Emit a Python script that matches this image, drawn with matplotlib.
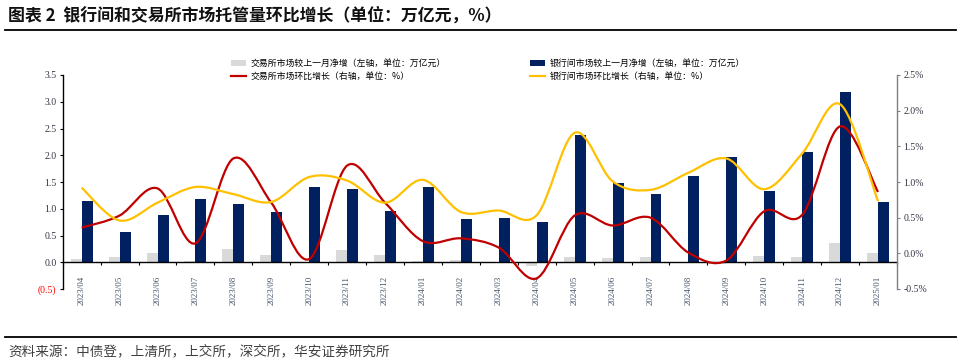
import numpy as np
import matplotlib.pyplot as plt
from matplotlib.path import Path
from matplotlib.patches import PathPatch, Patch
from matplotlib.lines import Line2D

plt.rcParams['font.family'] = ['Noto Sans CJK SC', 'DejaVu Sans']

months = ['2023/04', '2023/05', '2023/06', '2023/07', '2023/08', '2023/09', '2023/10',
          '2023/11', '2023/12', '2024/01', '2024/02', '2024/03', '2024/04', '2024/05',
          '2024/06', '2024/07', '2024/08', '2024/09', '2024/10', '2024/11', '2024/12',
          '2025/01']
# 较上一月净增（万亿元）
exch_net = [0.06, 0.10, 0.175, 0.025, 0.25, 0.14, 0.01, 0.23, 0.14, 0.025, 0.045,
            0.01, -0.07, 0.10, 0.08, 0.10, 0.01, -0.025, 0.12, 0.10, 0.36, 0.175]
bank_net = [1.15, 0.57, 0.89, 1.19, 1.09, 0.94, 1.41, 1.375, 0.95, 1.41, 0.80,
            0.825, 0.76, 2.38, 1.48, 1.28, 1.62, 1.96, 1.34, 2.07, 3.18, 1.13]
# 环比增长（%）
exch_mom = [0.36, 0.53, 0.91, 0.14, 1.33, 0.71, -0.08, 1.23, 0.71, 0.17, 0.21,
            0.08, -0.35, 0.53, 0.39, 0.50, 0.01, -0.10, 0.59, 0.54, 1.78, 0.86]
bank_mom = [0.92, 0.46, 0.71, 0.93, 0.83, 0.72, 1.07, 1.02, 0.71, 1.03, 0.58,
            0.60, 0.535, 1.69, 1.01, 0.89, 1.13, 1.33, 0.90, 1.40, 2.09, 0.73]

c_gray = '#D9D9D9'
c_navy = '#002060'
c_red = '#C00000'
c_yellow = '#FFC000'


def smooth_path(x, y):
    # Excel-style smoothed line drawn as cubic Bezier through the data points
    pts = np.column_stack([x, y]).astype(float)
    n = len(pts)
    verts = [pts[0]]
    codes = [Path.MOVETO]
    for i in range(n - 1):
        p0 = pts[max(i - 1, 0)]
        p1 = pts[i]
        p2 = pts[i + 1]
        p3 = pts[min(i + 2, n - 1)]
        verts += [p1 + (p2 - p0) / 6, p2 - (p3 - p1) / 6, p2]
        codes += [Path.CURVE4] * 3
    return Path(verts, codes)


fig = plt.figure(figsize=(9.61, 3.61), dpi=100)

# title & rules
fig.text(8 / 961, 1 - 16 / 361, '图表 2  银行间和交易所市场托管量环比增长（单位：万亿元，%）',
         fontsize=12.2, fontweight='bold', va='center', ha='left', color='#111111')
fig.add_artist(Line2D([5 / 961, 956 / 961], [1 - 29.5 / 361] * 2, color='black', lw=1.3))
fig.add_artist(Line2D([5 / 961, 956 / 961], [1 - 337 / 361] * 2, color='black', lw=1.3))
fig.text(8 / 961, 1 - 351 / 361, '资料来源：中债登，上清所，上交所，深交所，华安证券研究所',
         fontsize=9.8, va='center', ha='left', color='#404040')

ax = fig.add_axes([62.7 / 961, 1 - 289 / 361, (897 - 62.7) / 961, 214 / 361])
x = np.arange(len(months))
w = 0.29
ax.bar(x - w / 2, exch_net, width=w, color=c_gray, zorder=2)
ax.bar(x + w / 2, bank_net, width=w, color=c_navy, zorder=2)
ax.set_xlim(-0.5, len(months) - 0.5)
ax.set_ylim(-0.5, 3.5)

for s in ['top', 'right']:
    ax.spines[s].set_visible(False)
ax.spines['bottom'].set_position(('data', 0))
ax.spines['bottom'].set_linewidth(1.0)
ax.spines['left'].set_linewidth(1.0)

ax.set_xticks(np.arange(-0.5, len(months), 1))
ax.set_xticklabels([])
ax.set_xticks(x, minor=True)
ax.set_xticklabels(months, minor=True)
ax.tick_params(axis='x', which='major', direction='out', length=2.5, width=0.8)
ax.tick_params(axis='x', which='minor', length=0, pad=10, labelrotation=90,
               labelsize=6.5, labelcolor='#44546A', labelfontfamily='Liberation Serif')

yt = np.arange(-0.5, 3.51, 0.5)
ax.set_yticks(yt)
ax.set_yticklabels(['(0.5)' if v < 0 else f'{v:.1f}' for v in yt])
ax.tick_params(axis='y', direction='out', length=2.5, width=0.8, labelsize=7,
               labelcolor='#333344', labelfontfamily='Liberation Serif', pad=2)
ax.get_yticklabels()[0].set_color('#FF0000')

ax2 = ax.twinx()
ax2.set_ylim(-0.5, 2.5)
ax2.add_patch(PathPatch(smooth_path(x, exch_mom), fill=False, edgecolor=c_red, lw=1.6, zorder=3))
ax2.add_patch(PathPatch(smooth_path(x, bank_mom), fill=False, edgecolor=c_yellow, lw=1.6, zorder=3))
for s in ['top', 'left', 'bottom']:
    ax2.spines[s].set_visible(False)
ax2.spines['right'].set_color('#808080')
ax2.spines['right'].set_linewidth(1.0)
yt2 = np.arange(-0.5, 2.51, 0.5)
ax2.set_yticks(yt2)
ax2.set_yticklabels([f'{v:.1f}%' for v in yt2])
ax2.tick_params(axis='y', direction='out', length=2.5, width=0.8, color='#808080',
                labelsize=7, labelcolor='#333344', labelfontfamily='Liberation Serif', pad=2)

leg_kw = dict(frameon=False, fontsize=6.4, handlelength=1.7, handleheight=0.7,
              handletextpad=0.5, labelspacing=0.45, borderaxespad=0, borderpad=0)
fig.legend(handles=[Patch(facecolor=c_gray), Line2D([], [], color=c_red, lw=1.6)],
           labels=['交易所市场较上一月净增（左轴，单位：万亿元）', '交易所市场环比增长（右轴，单位：%）'],
           loc='upper left', bbox_to_anchor=(231 / 961, 1 - 59 / 361), **leg_kw)
fig.legend(handles=[Patch(facecolor=c_navy), Line2D([], [], color=c_yellow, lw=1.6)],
           labels=['银行间市场较上一月净增（左轴，单位：万亿元）', '银行间市场环比增长（右轴，单位：%）'],
           loc='upper left', bbox_to_anchor=(530 / 961, 1 - 59 / 361), **leg_kw)

fig.savefig('out.png', dpi=100)
